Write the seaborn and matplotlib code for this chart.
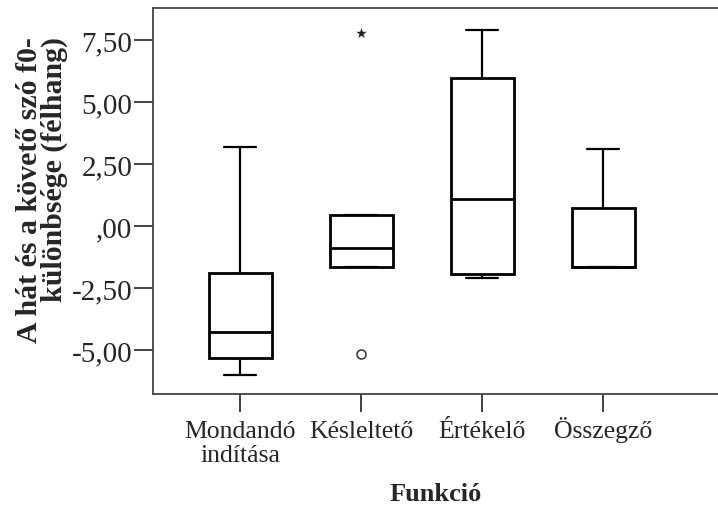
import numpy as np
import pandas as pd
import matplotlib
matplotlib.use('Agg')
import matplotlib.pyplot as plt
import seaborn as sns
from matplotlib.ticker import FuncFormatter

# values (semitones)
categories = ['Mondandó\nindítása', 'Késleltető', 'Értékelő', 'Összegző']
mondando = [-6.00, -5.31, -4.27, -1.90, 3.17]
keslelteto = [-5.17, -1.67, -1.67, -0.90, 0.46, 0.46, 7.80]
ertekelo = [-2.10, -1.95, 1.11, 5.95, 7.92]
osszegzo = [-1.67, -1.67, -1.64, 0.71, 3.09]
yticks = [-5.0, -2.5, 0.0, 2.5, 5.0, 7.5]

rows = []
for cat, vals in zip(categories, [mondando, keslelteto, ertekelo, osszegzo]):
    for v in vals:
        rows.append({'Funkcio': cat, 'value': v})
df = pd.DataFrame(rows)

# SPSS style: circles for outliers, stars for extremes
mild = []
extreme = []
for cat, g in df.groupby('Funkcio', sort=False):
    q1, q3 = np.percentile(g['value'], [25, 75])
    iqr = q3 - q1
    for v in g['value']:
        d = max(q1 - v, v - q3)
        if d > 3 * iqr:
            extreme.append({'Funkcio': cat, 'value': v})
        elif d > 1.5 * iqr:
            mild.append({'Funkcio': cat, 'value': v})
mild = pd.DataFrame(mild, columns=['Funkcio', 'value'])
extreme = pd.DataFrame(extreme, columns=['Funkcio', 'value'])


def fmt(v, p):
    s = ('%.2f' % v).replace('.', ',')
    if s.startswith('0,'):
        s = s[1:]
    return s


sns.set_style('white')
plt.rcParams['font.family'] = ['Liberation Serif', 'DejaVu Serif']

fig = plt.figure(figsize=(7.18, 5.06), dpi=100)
ax = fig.add_axes([153 / 718, 1 - 395 / 506, 1 - 153 / 718, 386 / 506])

line = {'color': 'black', 'linewidth': 1.6}
sns.boxplot(data=df, x='Funkcio', y='value', order=categories, ax=ax,
            width=0.52, showfliers=False, color='white', linecolor='black',
            boxprops={'facecolor': 'white', 'edgecolor': 'black', 'linewidth': 2},
            whiskerprops=line, capprops=line,
            medianprops={'color': 'black', 'linewidth': 2})
if len(mild):
    sns.stripplot(data=mild, x='Funkcio', y='value', order=categories, ax=ax,
                  jitter=False, marker='o', size=6.5, color='white',
                  edgecolor='#333333', linewidth=1.1)
if len(extreme):
    sns.stripplot(data=extreme, x='Funkcio', y='value', order=categories, ax=ax,
                  jitter=False, marker='*', size=8, color='#222222', linewidth=0)

ax.set_xlim(-0.72, 3.95)
ax.set_ylim(-6.77, 8.79)
ax.set_yticks(yticks)
ax.yaxis.set_major_formatter(FuncFormatter(fmt))
ax.grid(False)

for s in ['left', 'top', 'bottom']:
    ax.spines[s].set_color('#444444')
    ax.spines[s].set_linewidth(1.3)
ax.spines['right'].set_visible(False)

ax.tick_params(axis='y', direction='out', length=14, width=1.3, color='#333333',
               pad=1, labelsize=21, left=True)
ax.tick_params(axis='x', direction='out', length=13, width=1.3, color='#333333',
               pad=35.5, labelsize=18.5, bottom=True)
# give every name two lines so the first baselines line up (baseline = last line)
ax.set_xticks(range(len(categories)))
ax.set_xticklabels([c if '\n' in c else c + '\n ' for c in categories])
for t in ax.get_xticklabels():
    t.set_linespacing(1.15)
    t.set_verticalalignment('baseline')

ax.set_xlabel('Funkció', fontsize=19, fontweight='bold', labelpad=11)
ax.set_ylabel('A hát és a követő szó f0-\nkülönbsége (félhang)', fontsize=21.5,
              fontweight='bold', multialignment='right', linespacing=0.92)
ax.yaxis.set_label_coords(-0.150, 0.531)

plt.savefig('out.png', dpi=100)
plt.close()
